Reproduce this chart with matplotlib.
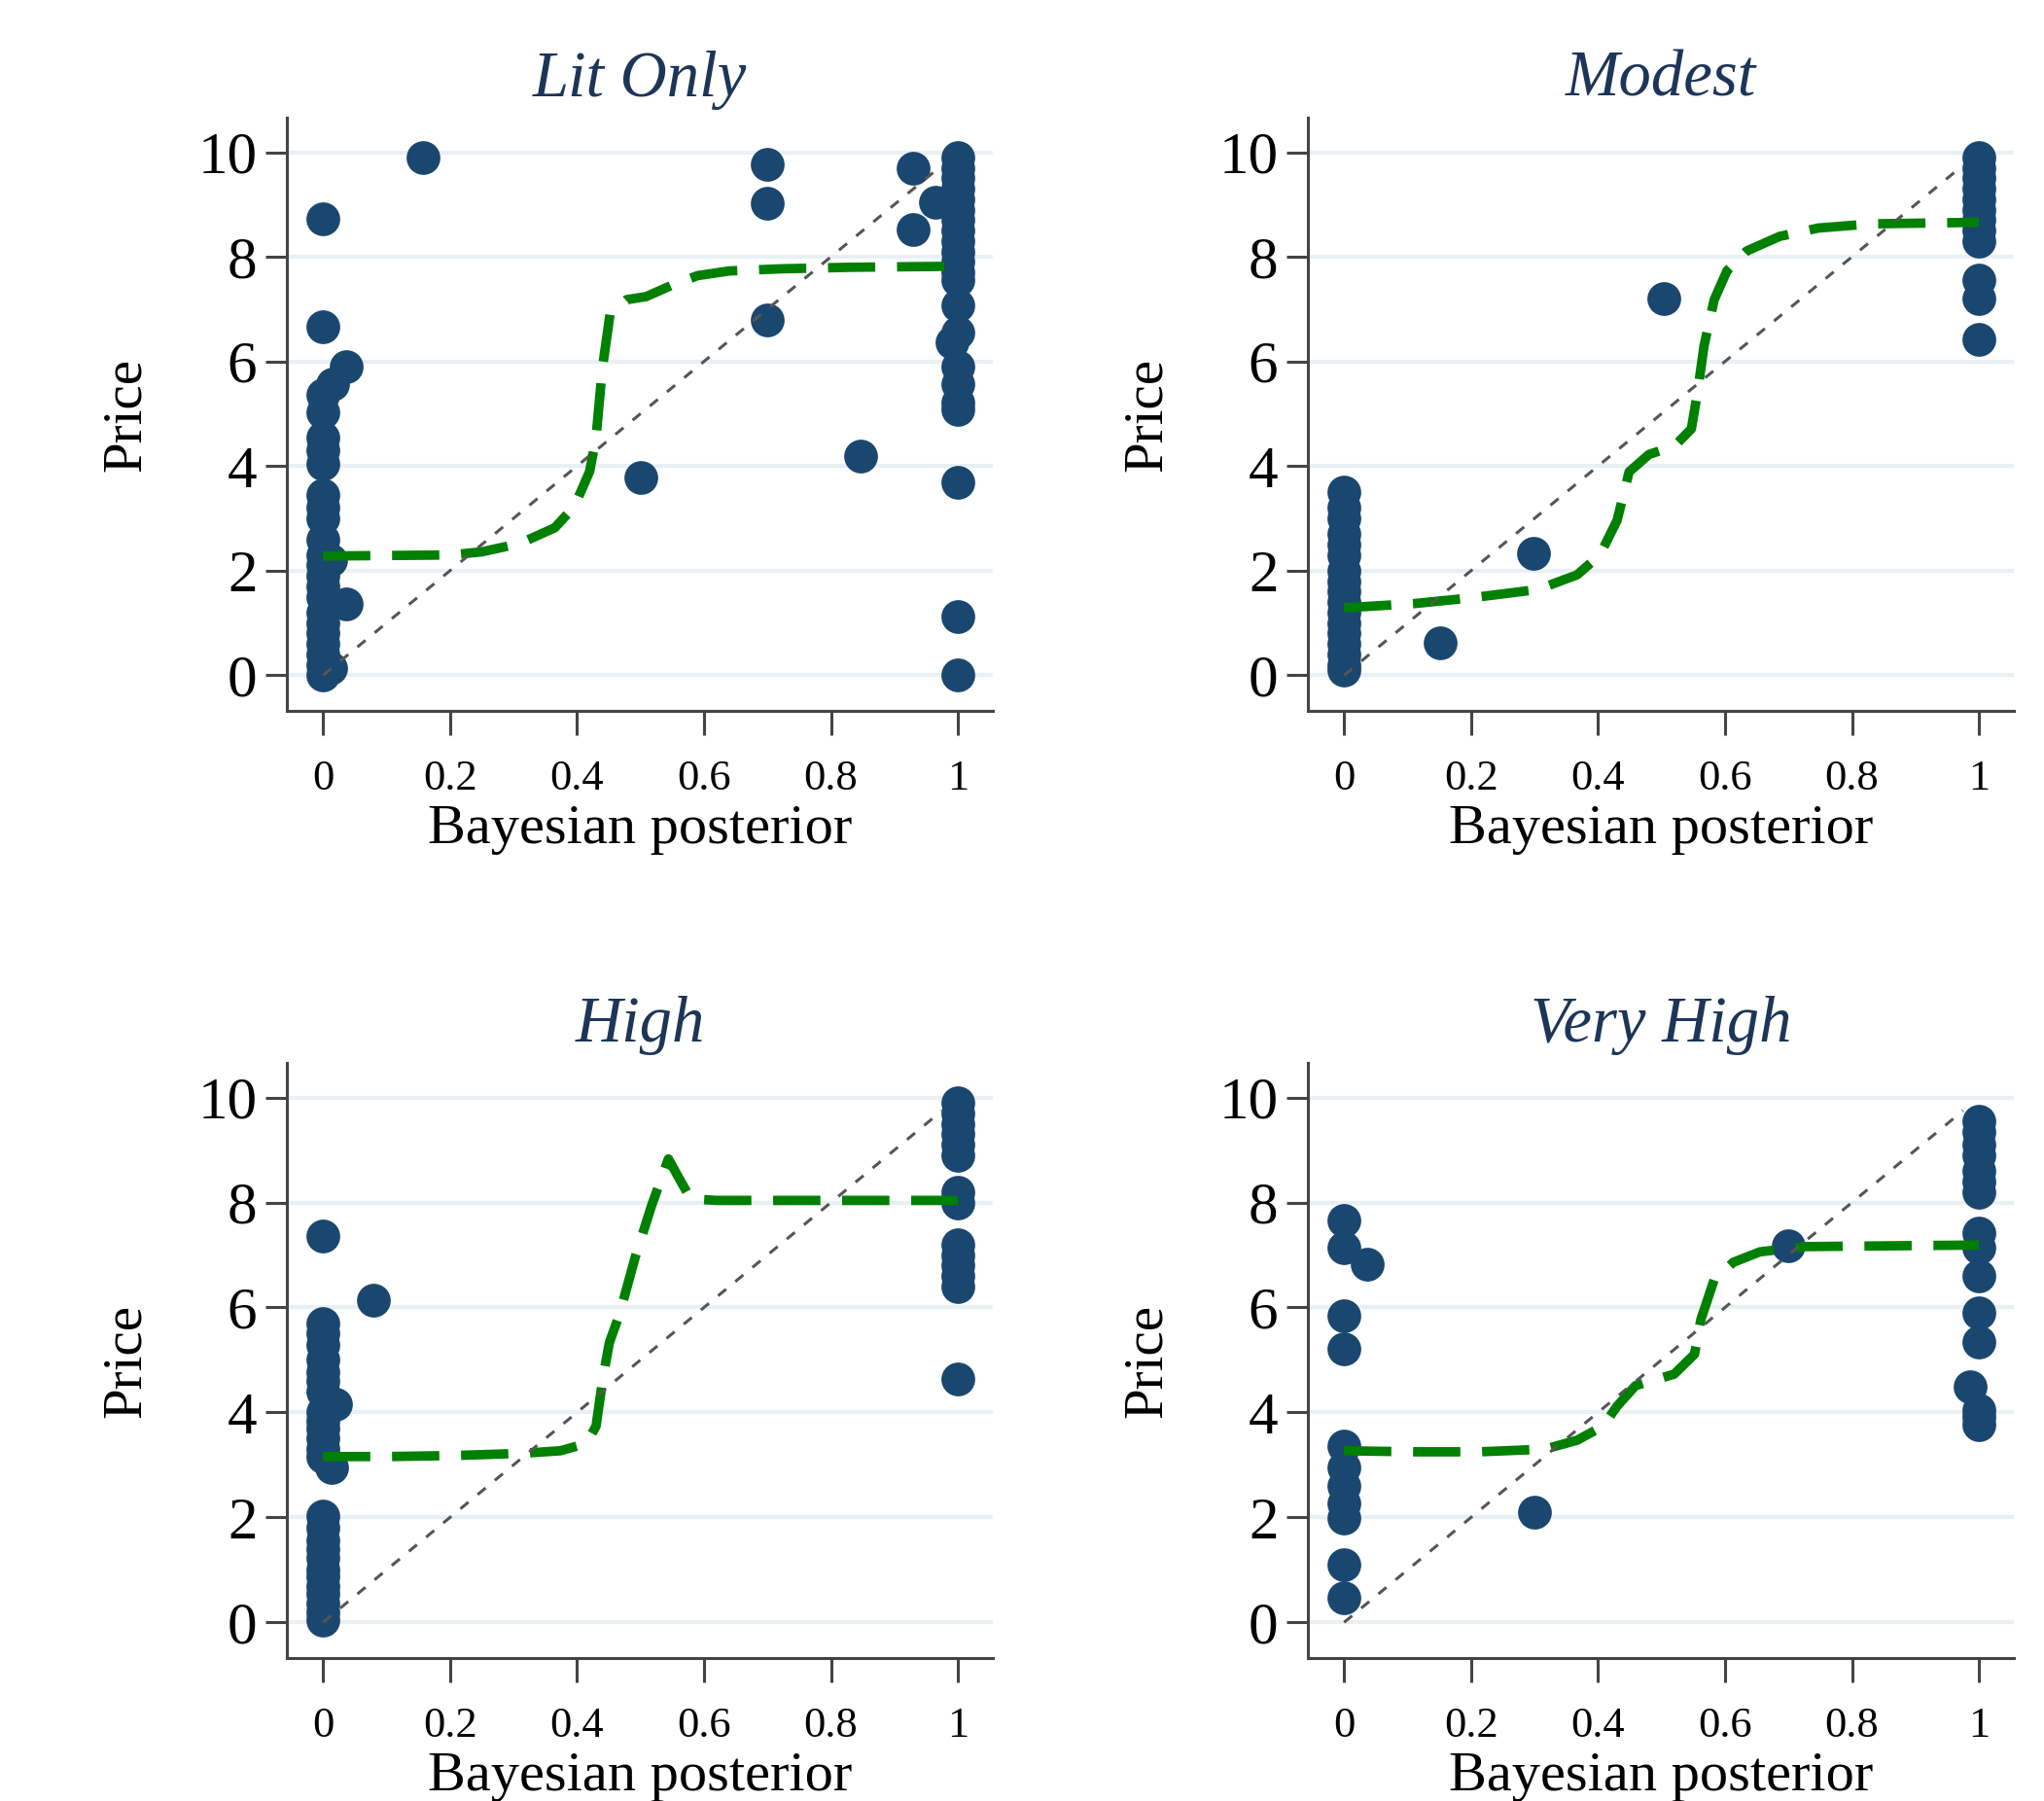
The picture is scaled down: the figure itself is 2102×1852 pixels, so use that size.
import matplotlib
matplotlib.use("Agg")
import matplotlib.pyplot as plt

plt.rcParams['font.family'] = ['Liberation Serif', 'DejaVu Serif']

NAVY = '#1a476f'
GREEN = '#008000'
GRID = '#e9f0f3'

# Lit Only
lit_x = [0] * 23 + [0.037, 0.015, 0.037, 0.012, 0.012,
                    0.157, 0.50, 0.70, 0.70, 0.70, 0.846, 0.93, 0.93, 0.965, 0.99] + [1] * 22
lit_y = [8.72, 6.66, 5.36, 5.02, 4.55, 4.3, 4.05, 3.44, 3.2, 3.0, 2.6, 2.3, 2.1, 1.9,
         1.7, 1.5, 1.2, 1.0, 0.8, 0.6, 0.4, 0.2, 0.0] + \
        [5.91, 5.57, 1.37, 2.2, 0.14,
         9.90, 3.78, 9.76, 9.02, 6.80, 4.19, 9.70, 8.52, 9.04, 6.36] + \
        [9.9, 9.7, 9.5, 9.3, 9.1, 8.9, 8.7, 8.5, 8.3, 8.1, 7.9, 7.7, 7.56, 7.08,
         6.56, 5.91, 5.57, 5.22, 5.09, 3.68, 1.13, 0.0]
lit_fit_x = [0, 0.2, 0.25, 0.31, 0.365, 0.396, 0.42, 0.43, 0.44, 0.452, 0.478,
             0.509, 0.55, 0.59, 0.64, 0.72, 0.83, 1.0]
lit_fit_y = [2.28, 2.3, 2.36, 2.52, 2.82, 3.23, 3.9, 4.55, 5.87, 6.9, 7.18,
             7.24, 7.46, 7.64, 7.73, 7.77, 7.8, 7.82]

# Modest
mod_x = [0] * 17 + [0.152, 0.298, 0.503] + [1] * 12
mod_y = [3.5, 3.2, 3.0, 2.7, 2.5, 2.3, 2.0, 1.8, 1.6, 1.4, 1.2, 1.0, 0.8, 0.6, 0.4, 0.2, 0.1] + \
        [0.63, 2.34, 7.20] + \
        [9.9, 9.7, 9.5, 9.3, 9.1, 8.9, 8.7, 8.5, 8.3, 7.55, 7.2, 6.43]
mod_fit_x = [0, 0.11, 0.2, 0.305, 0.367, 0.403, 0.43, 0.449, 0.48, 0.521, 0.547,
             0.557, 0.567, 0.583, 0.603, 0.634, 0.686, 0.747, 0.83, 1.0]
mod_fit_y = [1.29, 1.37, 1.48, 1.64, 1.92, 2.30, 2.96, 3.89, 4.22, 4.39, 4.71,
             5.43, 6.30, 7.18, 7.73, 8.11, 8.39, 8.55, 8.63, 8.66]

# High
high_x = [0] * 26 + [0.079, 0.02, 0.013] + [1] * 14
high_y = [7.36, 5.70, 5.5, 5.29, 5.0, 4.77, 4.6, 4.39, 4.0, 3.84, 3.7, 3.5, 3.3, 3.15,
          2.02, 1.8, 1.57, 1.4, 1.22, 1.0, 0.88, 0.7, 0.54, 0.35, 0.19, 0.05] + \
         [6.13, 4.15, 2.95] + \
         [9.9, 9.7, 9.5, 9.3, 9.1, 8.9, 8.2, 8.0, 7.2, 7.0, 6.8, 6.6, 6.4, 4.63]
high_fit_x = [0, 0.106, 0.21, 0.313, 0.374, 0.415, 0.43, 0.441, 0.451, 0.467,
              0.492, 0.518, 0.544, 0.559, 0.579, 0.62, 1.0]
high_fit_y = [3.16, 3.16, 3.18, 3.22, 3.27, 3.41, 3.74, 4.67, 5.33, 5.87,
              6.97, 7.96, 8.83, 8.5, 8.07, 8.04, 8.04]

# Very High
vh_x = [0] * 11 + [0.037, 0.30, 0.70, 0.986] + [1] * 15
vh_y = [7.66, 7.14, 5.84, 5.22, 3.36, 2.95, 2.6, 2.26, 1.98, 1.09, 0.47] + \
       [6.83, 2.10, 7.18, 4.49] + \
       [9.55, 9.35, 9.1, 8.9, 8.6, 8.4, 8.2, 7.42, 7.14, 6.6, 5.9, 5.35, 4.05, 3.91, 3.77]
vh_fit_x = [0, 0.11, 0.213, 0.316, 0.367, 0.408, 0.43, 0.459, 0.52, 0.552,
            0.562, 0.583, 0.613, 0.655, 0.727, 1.0]
vh_fit_y = [3.27, 3.25, 3.25, 3.30, 3.47, 3.74, 4.12, 4.51, 4.73, 5.11,
            5.77, 6.53, 6.86, 7.06, 7.16, 7.19]

titles = ['Lit Only', 'Modest', 'High', 'Very High']
panels = [(lit_x, lit_y, lit_fit_x, lit_fit_y),
          (mod_x, mod_y, mod_fit_x, mod_fit_y),
          (high_x, high_y, high_fit_x, high_fit_y),
          (vh_x, vh_y, vh_fit_x, vh_fit_y)]
diag_x = [0, 0.975]
diag_y = [0, 9.75]

W, H = 2102, 1852
fig = plt.figure(figsize=(W / 200, H / 200), dpi=200)

# axes boxes in pixels: left, top, right, bottom
boxes = [(295, 121, 1021, 731), (1345, 121, 2071, 731),
         (295, 1093, 1021, 1705), (1345, 1093, 2071, 1705)]

for (l, t, r, b), title, (px, py, fx, fy) in zip(boxes, titles, panels):
    ax = fig.add_axes([l / W, 1 - b / H, (r - l) / W, (b - t) / H])
    ax.set_xlim(-0.057, 1.055)
    ax.set_ylim(-0.68, 10.66)
    for yy in range(0, 11, 2):
        ax.axhline(yy, color=GRID, lw=1.5, zorder=0)
    ax.plot(px, py, 'o', color=NAVY, markersize=12.5, markeredgewidth=0, zorder=2)
    ax.plot(fx, fy, color=GREEN, lw=3.5, dashes=(5, 2.3), zorder=3)
    ax.plot(diag_x, diag_y, color='#555555', lw=1.1, dashes=(3.5, 4), zorder=4)

    for side in ['top', 'right']:
        ax.spines[side].set_visible(False)
    for side in ['left', 'bottom']:
        ax.spines[side].set_color('#444444')
        ax.spines[side].set_linewidth(1.1)

    ax.set_xticks([0, 0.2, 0.4, 0.6, 0.8, 1])
    ax.set_xticklabels(['0', '0.2', '0.4', '0.6', '0.8', '1'])
    ax.set_yticks(range(0, 11, 2))
    ax.tick_params(axis='x', direction='out', length=9, width=1.1, color='#444444',
                   labelsize=16, pad=9)
    ax.tick_params(axis='y', direction='out', length=8, width=1.1, color='#444444',
                   labelsize=22, pad=3)

    ax.set_xlabel('Bayesian posterior', fontsize=21, labelpad=2)
    ax.set_ylabel('Price', fontsize=20.5, labelpad=17)
    ax.set_title(title, fontsize=24, style='italic', color='#1c3558', pad=8)

fig.savefig('out.png', dpi=200, facecolor='white')
